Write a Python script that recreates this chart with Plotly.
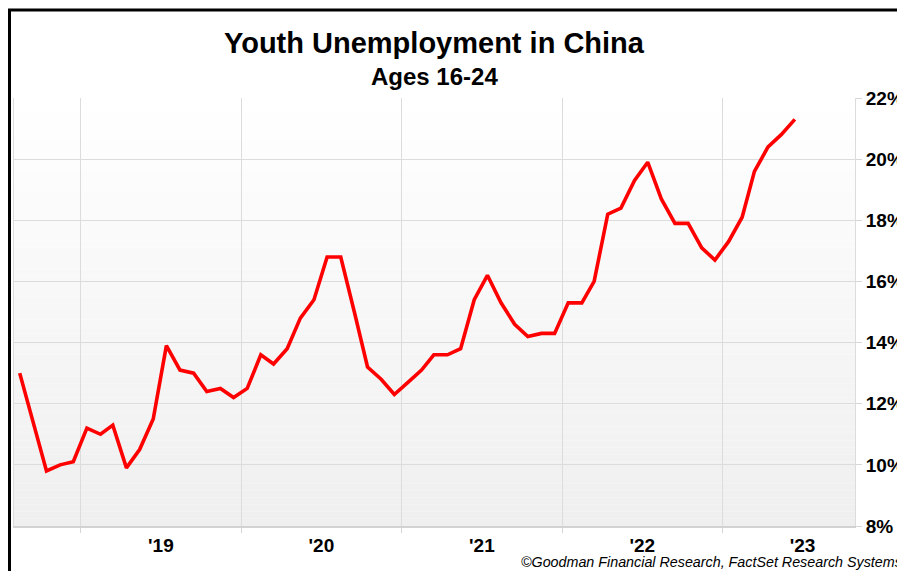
import pandas as pd
import plotly.graph_objects as go

# Monthly youth (16-24) unemployment rate, %, Aug 2018 .. Jun 2023
months = pd.date_range("2018-08-01", "2023-06-01", freq="MS") + pd.Timedelta(days=14)
rate = [
    13.0, 11.4, 9.8, 10.0, 10.1,                                        # 2018 Aug-Dec
    11.2, 11.0, 11.3, 9.9, 10.5, 11.5, 13.9, 13.1, 13.0, 12.4, 12.5, 12.2,  # 2019
    12.5, 13.6, 13.3, 13.8, 14.8, 15.4, 16.8, 16.8, 15.0, 13.2, 12.8, 12.3,  # 2020
    12.7, 13.1, 13.6, 13.6, 13.8, 15.4, 16.2, 15.3, 14.6, 14.2, 14.3, 14.3,  # 2021
    15.3, 15.3, 16.0, 18.2, 18.4, 19.3, 19.9, 18.7, 17.9, 17.9, 17.1, 16.7,  # 2022
    17.3, 18.1, 19.6, 20.4, 20.8, 21.3,                                  # 2023 Jan-Jun
]
y_ticks = [8, 10, 12, 14, 16, 18, 20, 22]
y_tick_text = [f"{v}%" for v in y_ticks]

title = "Youth Unemployment in China"
subtitle = "Ages 16-24"
source = "©Goodman Financial Research, FactSet Research Systems"

W, H = 897, 571
L, R, T, B = 14, 855, 98, 526
FONT = "Liberation Sans, Arial, sans-serif"

fig = go.Figure()
fig.add_trace(go.Scatter(
    x=months, y=rate, mode="lines",
    line=dict(color="#ff0000", width=3.6),
    hoverinfo="x+y", showlegend=False,
))

# gradient background of plot area
shapes = []
n = 60
for i in range(n):
    t = i / (n - 1)
    g = int(round(255 - 16 * t))
    shapes.append(dict(
        type="rect", xref="paper", yref="paper",
        x0=0, x1=1, y0=1 - (i + 1) / n, y1=1 - i / n,
        fillcolor=f"rgb({g},{g},{g})", line=dict(width=0), layer="below",
    ))

def px_x(p):
    return (p - L) / (R - L)

def px_y(p):
    return (B - p) / (B - T)

# outer black frame: left and top edges (others fall outside the canvas)
shapes.append(dict(type="line", xref="paper", yref="paper",
                   x0=px_x(9.5), x1=px_x(9.5), y0=px_y(10), y1=px_y(700),
                   line=dict(color="black", width=3), layer="above"))
shapes.append(dict(type="line", xref="paper", yref="paper",
                   x0=px_x(8), x1=px_x(1000), y0=px_y(10), y1=px_y(10),
                   line=dict(color="black", width=3), layer="above"))

fig.update_layout(
    width=W, height=H,
    margin=dict(l=L, r=W - R, t=T, b=H - B, autoexpand=False),
    paper_bgcolor="white",
    plot_bgcolor="rgba(0,0,0,0)",
    shapes=shapes,
    font=dict(family=FONT, color="black"),
    xaxis=dict(
        type="date",
        range=["2018-08-02", "2023-10-30"],
        tick0="2019-01-01", dtick="M12",
        ticklabelmode="period",
        tickformat="'%y",
        ticks="outside", ticklen=5, tickcolor="#d6d6d6",
        ticklabelstandoff=-4,
        showgrid=True, gridcolor="#dcdcdc", gridwidth=1,
        showline=True, linecolor="#d2d2d2", linewidth=2, mirror=False,
        tickfont=dict(family=FONT, size=19, color="black", weight="bold"),
        zeroline=False, automargin=False,
        fixedrange=True,
    ),
    yaxis=dict(
        side="right",
        range=[8, 22],
        tickvals=y_ticks, ticktext=y_tick_text,
        ticks="outside", ticklen=6, tickcolor="#d6d6d6",
        showgrid=True, gridcolor="#dcdcdc", gridwidth=1,
        showline=True, linecolor="#dcdcdc", linewidth=1, mirror=True,
        tickfont=dict(family=FONT, size=19, color="black", weight="bold"),
        zeroline=False, automargin=False,
        fixedrange=True,
    ),
    annotations=[
        dict(text=f"<b>{title}</b>", xref="paper", yref="paper",
             x=0.5, y=px_y(43), xanchor="center", yanchor="middle",
             showarrow=False, font=dict(family=FONT, size=29, color="black")),
        dict(text=f"<b>{subtitle}</b>", xref="paper", yref="paper",
             x=0.5, y=px_y(77), xanchor="center", yanchor="middle",
             showarrow=False, font=dict(family=FONT, size=24, color="black")),
        dict(text=f"<i>{source}</i>", xref="paper", yref="paper",
             x=px_x(519), y=px_y(562), xanchor="left", yanchor="middle",
             showarrow=False, font=dict(family=FONT, size=14.3, color="black")),
    ],
)

fig.write_html("out.html")
